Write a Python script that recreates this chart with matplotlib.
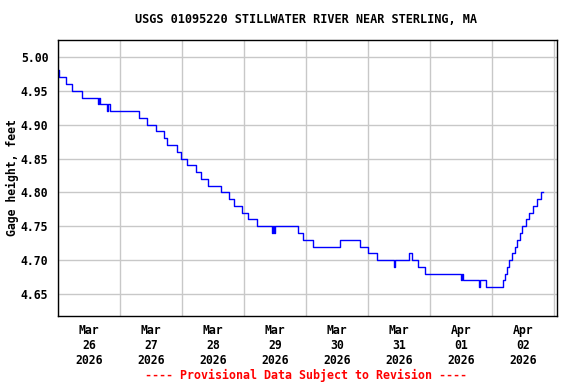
import matplotlib
matplotlib.use("Agg")
import matplotlib.pyplot as plt
import matplotlib.dates as mdates
import numpy as np
import pandas as pd

# step change points: hours after 2026-03-26 00:00 and gage height (ft)
hours = [0.0, 0.4, 3.1, 5.4, 9.3, 15.5, 15.9, 16.3, 19.0, 19.4, 20.1, 31.4,
         34.4, 37.9, 41.0, 42.2, 46.1, 47.6, 49.9, 53.4, 55.4, 58.1, 63.1,
         66.2, 68.1, 71.2, 73.5, 77.0, 82.8, 83.2, 83.6, 84.0, 92.9, 94.8,
         98.7, 109.2, 116.9, 120.0, 123.5, 130.1, 130.5, 135.9, 137.0, 139.4,
         142.1, 156.0, 156.4, 156.8, 163.0, 163.4, 165.7, 172.3, 173.0, 173.8,
         174.6, 175.7, 176.9, 177.7, 178.8, 179.6, 181.2, 182.3, 183.9, 185.4,
         187.0, 187.7]
gage = [4.98, 4.97, 4.96, 4.95, 4.94, 4.93, 4.94, 4.93, 4.92, 4.93, 4.92, 4.91,
        4.90, 4.89, 4.88, 4.87, 4.86, 4.85, 4.84, 4.83, 4.82, 4.81, 4.80,
        4.79, 4.78, 4.77, 4.76, 4.75, 4.74, 4.75, 4.74, 4.75, 4.74, 4.73,
        4.72, 4.73, 4.72, 4.71, 4.70, 4.69, 4.70, 4.71, 4.70, 4.69,
        4.68, 4.67, 4.68, 4.67, 4.66, 4.67, 4.66, 4.67, 4.68, 4.69,
        4.70, 4.71, 4.72, 4.73, 4.74, 4.75, 4.76, 4.77, 4.78, 4.79,
        4.80, 4.80]
y_ticks = [4.65, 4.70, 4.75, 4.80, 4.85, 4.90, 4.95, 5.00]

start = pd.Timestamp("2026-03-26")
times = start + pd.to_timedelta(hours, unit="h")

font = "DejaVu Sans Mono"
fig = plt.figure(figsize=(5.76, 3.84), dpi=100)
ax = fig.add_axes([58 / 576, 68 / 384, 499 / 576, 276 / 384])

ax.plot(times, gage, color="#0000ff", lw=1.0, drawstyle="steps-post")

ax.set_xlim(start, start + pd.Timedelta(hours=193))
ax.set_ylim(4.6175, 5.025)

ax.xaxis.set_major_locator(mdates.HourLocator(byhour=[12]))
ax.xaxis.set_major_formatter(mdates.DateFormatter("%b\n%d\n%Y"))
ax.xaxis.set_minor_locator(mdates.DayLocator())
ax.set_yticks(y_ticks)
ax.set_yticklabels([f"{v:.2f}" for v in y_ticks])

ax.grid(False)
ax.grid(True, which="minor", axis="x", color="#c8c8c8", lw=1)
ax.grid(True, which="major", axis="y", color="#c8c8c8", lw=1)
ax.set_axisbelow(True)
ax.tick_params(which="both", length=0)
ax.tick_params(axis="x", pad=6)
ax.tick_params(axis="y", pad=7)
for lab in ax.get_xticklabels() + ax.get_yticklabels():
    lab.set_fontfamily(font)
    lab.set_fontweight("bold")
    lab.set_fontsize(8.3)
for sp in ax.spines.values():
    sp.set_linewidth(1.0)

ax.set_ylabel("Gage height, feet", fontfamily=font, fontweight="bold", fontsize=8.3, labelpad=1)
fig.text(0.532, 0.948, "USGS 01095220 STILLWATER RIVER NEAR STERLING, MA",
         ha="center", va="center", fontfamily=font, fontweight="bold", fontsize=8.6)
fig.text(0.532, 0.023, "---- Provisional Data Subject to Revision ----",
         ha="center", va="center", color="#ff0000", fontfamily=font,
         fontweight="bold", fontsize=8.4)

fig.savefig("out.png", dpi=100)
